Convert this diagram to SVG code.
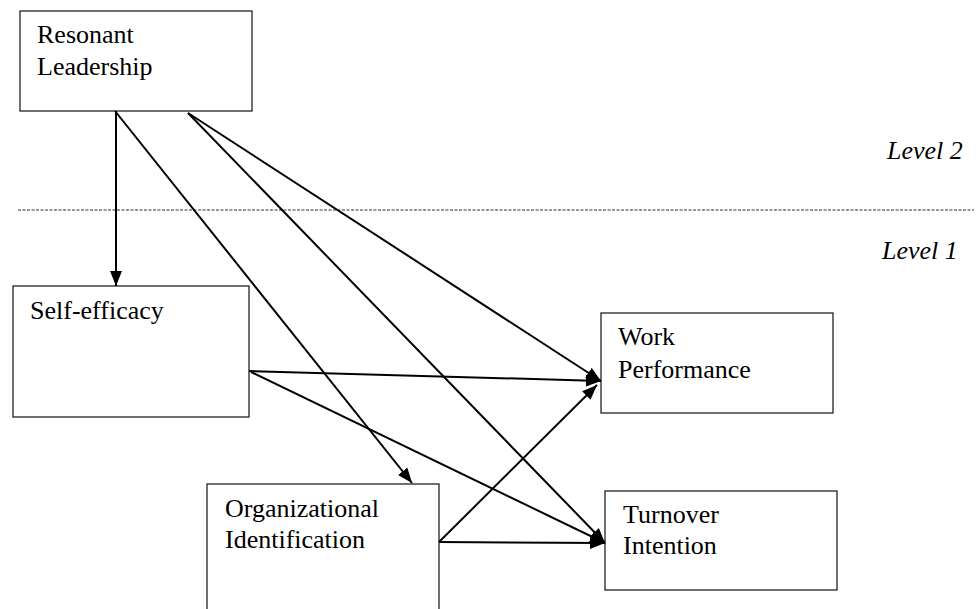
<svg xmlns="http://www.w3.org/2000/svg" width="976" height="609" viewBox="0 0 976 609">
<style>
.box{fill:#fff;stroke:#222;stroke-width:1.3}
.lbl{font-family:"Liberation Serif","Times New Roman",serif;font-size:26px;fill:#000}
.lvl{font-family:"Liberation Serif","Times New Roman",serif;font-size:26px;font-style:italic;fill:#000}
.arr{stroke:#000;stroke-width:2;fill:none;marker-end:url(#ah)}
</style>
<defs>
<marker id="ah" markerUnits="userSpaceOnUse" markerWidth="16" markerHeight="12" refX="15" refY="6" orient="auto">
<path d="M0,0 L15,6 L0,12 Z" fill="#000"/>
</marker>
</defs>
<rect width="976" height="609" fill="#fff"/>
<line x1="18" y1="210" x2="974" y2="210" stroke="#777" stroke-width="1.3" stroke-dasharray="3,1.5"/>
<text class="lvl" x="887" y="159">Level 2</text>
<text class="lvl" x="882" y="259">Level 1</text>
<g id="resonant">
<rect class="box" x="20" y="11" width="232" height="100"/>
<text class="lbl" x="37" y="43">Resonant</text>
<text class="lbl" x="37" y="75">Leadership</text>
</g>
<g id="selfefficacy">
<rect class="box" x="13" y="286" width="236" height="131"/>
<text class="lbl" x="30" y="319">Self-efficacy</text>
</g>
<g id="orgid">
<rect class="box" x="207" y="484" width="232" height="140"/>
<text class="lbl" x="225" y="517">Organizational</text>
<text class="lbl" x="225" y="548">Identification</text>
</g>
<g id="workperf">
<rect class="box" x="601" y="313" width="232" height="100"/>
<text class="lbl" x="618" y="345">Work</text>
<text class="lbl" x="618" y="378">Performance</text>
</g>
<g id="turnover">
<rect class="box" x="605" y="491" width="232" height="99"/>
<text class="lbl" x="623" y="523">Turnover</text>
<text class="lbl" x="623" y="554">Intention</text>
</g>
<g id="connectors">
<line class="arr" x1="116" y1="111" x2="116" y2="286"/>
<line class="arr" x1="115" y1="111" x2="412" y2="483"/>
<line class="arr" x1="188" y1="113" x2="601" y2="381"/>
<line class="arr" x1="188" y1="113" x2="605" y2="543"/>
<line class="arr" x1="249" y1="371" x2="601" y2="381"/>
<line class="arr" x1="251" y1="372" x2="605" y2="543"/>
<line class="arr" x1="439" y1="542" x2="597" y2="385"/>
<line class="arr" x1="439" y1="542" x2="605" y2="543"/>
</g>
</svg>
